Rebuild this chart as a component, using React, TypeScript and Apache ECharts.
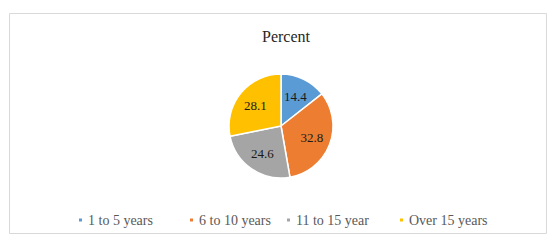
import React, { useEffect, useRef } from "react";
import * as echarts from "echarts";

const categories = ["1 to 5 years", "6 to 10 years", "11 to 15 year", "Over 15 years"];
const values = [14.4, 32.8, 24.6, 28.1];
const colors = ["#5B9BD5", "#ED7D31", "#A5A5A5", "#FFC000"];
const legendLefts = [72, 183, 280, 393];

const SERIF = "Liberation Serif";

export default function App() {
  const ref = useRef<HTMLDivElement>(null);
  useEffect(() => {
    const chart = echarts.init(ref.current!, null, { renderer: "svg" });
    chart.setOption({
      animation: false,
      backgroundColor: "#ffffff",
      title: {
        text: "Percent",
        left: 281,
        textAlign: "center",
        top: 23,
        textStyle: { fontFamily: SERIF, fontSize: 16, fontWeight: "normal", color: "#262626" },
      },
      graphic: [
        {
          type: "rect",
          shape: { x: 9.5, y: 13.5, width: 537, height: 220 },
          style: { fill: "none", stroke: "#d9d9d9", lineWidth: 1 },
          silent: true,
        },
      ],
      legend: categories.map((c, i) => ({
        top: 208,
        left: legendLefts[i],
        icon: "rect",
        itemWidth: 5,
        itemHeight: 5,
        itemGap: 0,
        textStyle: { fontFamily: SERIF, fontSize: 14, color: "#595959" },
        data: [c],
      })),
      series: [
        {
          type: "pie",
          center: [281, 126],
          radius: 52,
          startAngle: 90,
          clockwise: true,
          itemStyle: { borderColor: "#ffffff", borderWidth: 1.5 },
          label: { show: false },
          labelLine: { show: false },
          data: categories.map((c, i) => ({ name: c, value: values[i], itemStyle: { color: colors[i] } })),
        },
        {
          type: "pie",
          center: [281, 126],
          radius: [8, 52],
          startAngle: 90,
          clockwise: true,
          silent: true,
          itemStyle: { color: "rgba(0,0,0,0)", borderWidth: 0 },
          label: {
            show: true,
            position: "inside",
            formatter: (p: any) => p.value.toFixed(1),
            fontFamily: SERIF,
            fontSize: 13,
            color: "#1a1a1a",
          },
          labelLine: { show: false },
          data: categories.map((c, i) => ({ name: c, value: values[i] })),
        },
      ],
    });
    return () => chart.dispose();
  }, []);
  return <div ref={ref} style={{ position: "fixed", left: 0, top: 0, width: 552, height: 240 }} />;
}
